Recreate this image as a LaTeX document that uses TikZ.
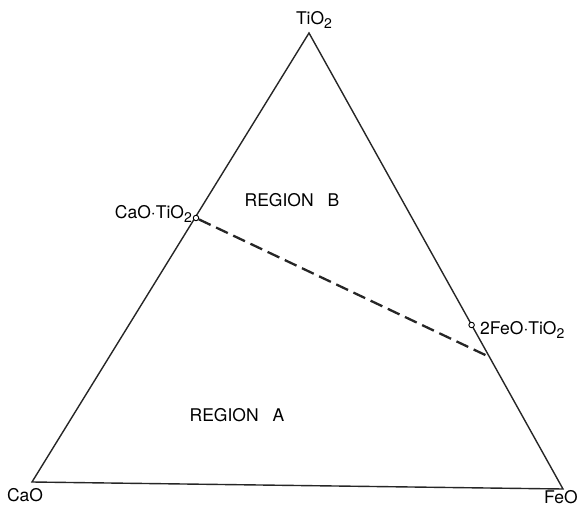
\documentclass[tikz,border=0pt]{standalone}
\usepackage{fontspec}
\setmainfont{TeX Gyre Heros}
\newcommand{\subtwo}{\raisebox{-0.35ex}{\fontsize{14}{14}\selectfont 2}}
\begin{document}
\begin{tikzpicture}[x=1pt,y=-1pt,
  edge/.style={line width=1.4pt,black!85},
  tie/.style={line width=2.3pt,black!85,dash pattern=on 13pt off 6pt},
  pt/.style={circle,draw,line width=0.9pt,fill=white,inner sep=0pt,minimum size=5.5pt},
  lab/.style={inner sep=0pt,font=\fontsize{17.5}{17.5}\selectfont}]
\useasboundingbox (0,0) rectangle (581,513);
\coordinate (top) at (309,33);
\coordinate (left) at (32,482);
\coordinate (right) at (563,489);
\coordinate (tieend) at (489.5,357);
\draw[edge] (top) -- (left) -- (right) -- cycle;
\node[pt] (cat) at (196,218) {};
\node[pt] (fet) at (471.6,325) {};
\draw[tie] (cat) -- (tieend);
\node[lab] (ltop) at (314,20) {TiO\subtwo};
\node[lab,anchor=east] (lcat) at (192,214) {CaO·TiO\subtwo};
\node[lab,anchor=west] (lfet) at (480,330) {2FeO·TiO\subtwo};
\node[lab] (lcao) at (25,495) {CaO};
\node[lab] (lfeo) at (561,497) {FeO};
\node[lab] (rb) at (292,200) {REGION\hspace{14pt}B};
\node[lab] (ra) at (237,415) {REGION\hspace{14pt}A};
\end{tikzpicture}
\end{document}
